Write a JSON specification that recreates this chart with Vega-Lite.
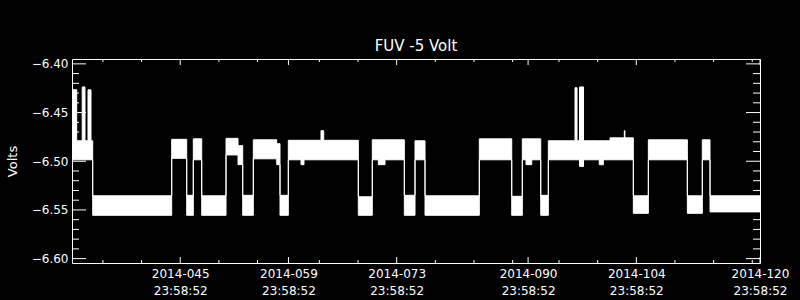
{
  "$schema": "https://vega.github.io/schema/vega-lite/v6.json",
  "width": 688,
  "height": 204,
  "autosize": {"type": "none"},
  "padding": {"left": 72, "top": 59, "right": 40, "bottom": 37},
  "background": "black",
  "view": {"stroke": null},
  "title": {"text": "FUV -5 Volt", "color": "white", "font": "DejaVu Sans", "fontSize": 15, "fontWeight": "normal", "anchor": "middle", "offset": -8, "baseline": "alphabetic"},
  "datasets": {
    "volts": [
      {"t": "2014-01-31T23:58:52Z", "hi": -6.4265, "lo": -6.4985},
      {"t": "2014-02-01T14:35:00Z", "hi": -6.479, "lo": -6.4985},
      {"t": "2014-02-02T07:40:00Z", "hi": -6.4237, "lo": -6.4985},
      {"t": "2014-02-02T16:20:00Z", "hi": -6.479, "lo": -6.4985},
      {"t": "2014-02-03T01:40:00Z", "hi": -6.4267, "lo": -6.4985},
      {"t": "2014-02-03T11:00:00Z", "hi": -6.479, "lo": -6.4985},
      {"t": "2014-02-03T16:15:00Z", "hi": -6.5355, "lo": -6.5555},
      {"t": "2014-02-13T21:30:00Z", "hi": -6.4775, "lo": -6.497},
      {"t": "2014-02-15T20:05:00Z", "hi": -6.535, "lo": -6.5555},
      {"t": "2014-02-16T16:35:00Z", "hi": -6.477, "lo": -6.4985},
      {"t": "2014-02-17T18:40:00Z", "hi": -6.5355, "lo": -6.5555},
      {"t": "2014-02-20T22:10:00Z", "hi": -6.4765, "lo": -6.4935},
      {"t": "2014-02-22T11:25:00Z", "hi": -6.484, "lo": -6.5035},
      {"t": "2014-02-23T02:00:00Z", "hi": -6.535, "lo": -6.5555},
      {"t": "2014-02-24T10:55:00Z", "hi": -6.478, "lo": -6.4975},
      {"t": "2014-02-27T11:30:00Z", "hi": -6.482, "lo": -6.5035},
      {"t": "2014-02-27T21:45:00Z", "hi": -6.535, "lo": -6.5555},
      {"t": "2014-02-28T23:35:00Z", "hi": -6.4785, "lo": -6.4985},
      {"t": "2014-03-02T15:00:00Z", "hi": -6.4785, "lo": -6.5035},
      {"t": "2014-03-03T00:15:00Z", "hi": -6.4785, "lo": -6.4985},
      {"t": "2014-03-05T05:05:00Z", "hi": -6.4686, "lo": -6.4985},
      {"t": "2014-03-05T13:25:00Z", "hi": -6.4785, "lo": -6.4985},
      {"t": "2014-03-10T00:55:00Z", "hi": -6.5365, "lo": -6.5555},
      {"t": "2014-03-11T20:20:00Z", "hi": -6.478, "lo": -6.4985},
      {"t": "2014-03-12T15:00:00Z", "hi": -6.478, "lo": -6.5035},
      {"t": "2014-03-13T11:45:00Z", "hi": -6.478, "lo": -6.4985},
      {"t": "2014-03-15T23:45:00Z", "hi": -6.535, "lo": -6.5555},
      {"t": "2014-03-17T08:55:00Z", "hi": -6.479, "lo": -6.4985},
      {"t": "2014-03-18T16:00:00Z", "hi": -6.5355, "lo": -6.5555},
      {"t": "2014-03-25T16:35:00Z", "hi": -6.477, "lo": -6.4985},
      {"t": "2014-03-29T21:10:00Z", "hi": -6.536, "lo": -6.5555},
      {"t": "2014-03-31T06:05:00Z", "hi": -6.477, "lo": -6.4985},
      {"t": "2014-03-31T17:30:00Z", "hi": -6.477, "lo": -6.5035},
      {"t": "2014-04-01T11:20:00Z", "hi": -6.477, "lo": -6.4985},
      {"t": "2014-04-02T15:15:00Z", "hi": -6.535, "lo": -6.5555},
      {"t": "2014-04-03T14:50:00Z", "hi": -6.479, "lo": -6.4985},
      {"t": "2014-04-07T01:40:00Z", "hi": -6.4245, "lo": -6.4985},
      {"t": "2014-04-07T07:55:00Z", "hi": -6.479, "lo": -6.4985},
      {"t": "2014-04-07T15:40:00Z", "hi": -6.4237, "lo": -6.5053},
      {"t": "2014-04-08T04:05:00Z", "hi": -6.479, "lo": -6.4985},
      {"t": "2014-04-10T05:00:00Z", "hi": -6.479, "lo": -6.5036},
      {"t": "2014-04-10T17:30:00Z", "hi": -6.479, "lo": -6.4985},
      {"t": "2014-04-11T14:25:00Z", "hi": -6.476, "lo": -6.4985},
      {"t": "2014-04-13T10:45:00Z", "hi": -6.4686, "lo": -6.4985},
      {"t": "2014-04-13T12:30:00Z", "hi": -6.476, "lo": -6.4985},
      {"t": "2014-04-14T14:45:00Z", "hi": -6.5355, "lo": -6.5535},
      {"t": "2014-04-16T13:20:00Z", "hi": -6.478, "lo": -6.4985},
      {"t": "2014-04-21T14:25:00Z", "hi": -6.5355, "lo": -6.5535},
      {"t": "2014-04-23T12:55:00Z", "hi": -6.478, "lo": -6.4985},
      {"t": "2014-04-24T12:50:00Z", "hi": -6.5355, "lo": -6.552},
      {"t": "2014-04-30T23:58:52Z", "hi": -6.5355, "lo": -6.552}
    ],
    "xmajor": [
      {"t": "2014-02-14T23:58:52Z"}, {"t": "2014-02-28T23:58:52Z"}, {"t": "2014-03-14T23:58:52Z"},
      {"t": "2014-03-31T23:58:52Z"}, {"t": "2014-04-14T23:58:52Z"}, {"t": "2014-04-30T23:58:52Z"}
    ],
    "xminor": [
      {"t": "2014-02-04T23:58:52Z"}, {"t": "2014-02-09T23:58:52Z"}, {"t": "2014-02-19T23:58:52Z"}, {"t": "2014-02-24T23:58:52Z"},
      {"t": "2014-03-04T23:58:52Z"}, {"t": "2014-03-09T23:58:52Z"}, {"t": "2014-03-19T23:58:52Z"}, {"t": "2014-03-24T23:58:52Z"},
      {"t": "2014-03-29T23:58:52Z"}, {"t": "2014-04-04T23:58:52Z"}, {"t": "2014-04-09T23:58:52Z"}, {"t": "2014-04-19T23:58:52Z"},
      {"t": "2014-04-24T23:58:52Z"}, {"t": "2014-04-29T23:58:52Z"}
    ],
    "ymajor": [{"v": -6.6}, {"v": -6.55}, {"v": -6.5}, {"v": -6.45}, {"v": -6.4}],
    "yminor": [
      {"v": -6.59}, {"v": -6.58}, {"v": -6.57}, {"v": -6.56}, {"v": -6.54}, {"v": -6.53}, {"v": -6.52}, {"v": -6.51},
      {"v": -6.49}, {"v": -6.48}, {"v": -6.47}, {"v": -6.46}, {"v": -6.44}, {"v": -6.43}, {"v": -6.42}, {"v": -6.41}
    ]
  },
  "layer": [
    {
      "data": {"name": "volts"},
      "mark": {"type": "area", "interpolate": "step-after", "color": "white", "stroke": "white", "strokeWidth": 1, "clip": true},
      "encoding": {
        "x": {"field": "t", "type": "temporal", "scale": {"type": "utc", "domain": [{"year": 2014, "month": 1, "date": 31, "hours": 23, "minutes": 58, "seconds": 52, "utc": true}, {"year": 2014, "month": 4, "date": 30, "hours": 23, "minutes": 58, "seconds": 52, "utc": true}]},
          "axis": {"orient": "bottom", "values": [
            {"year": 2014, "month": 2, "date": 14, "hours": 23, "minutes": 58, "seconds": 52, "utc": true},
            {"year": 2014, "month": 2, "date": 28, "hours": 23, "minutes": 58, "seconds": 52, "utc": true},
            {"year": 2014, "month": 3, "date": 14, "hours": 23, "minutes": 58, "seconds": 52, "utc": true},
            {"year": 2014, "month": 3, "date": 31, "hours": 23, "minutes": 58, "seconds": 52, "utc": true},
            {"year": 2014, "month": 4, "date": 14, "hours": 23, "minutes": 58, "seconds": 52, "utc": true},
            {"year": 2014, "month": 4, "date": 30, "hours": 23, "minutes": 58, "seconds": 52, "utc": true}],
            "ticks": false, "domain": true, "domainColor": "white", "domainWidth": 1, "labelColor": "white", "labelFont": "DejaVu Sans", "labelFontSize": 12, "labelPadding": 5, "labelLineHeight": 17,
            "labelExpr": "[utcFormat(datum.value, '%Y-%j'), utcFormat(datum.value, '%H:%M:%S')]",
            "labelFlush": false, "labelOverlap": false, "labelBound": false, "grid": false, "title": null}},
        "y": {"field": "hi", "type": "quantitative", "scale": {"domain": [-6.6045, -6.395], "nice": false, "zero": false},
          "axis": {"orient": "left", "values": [-6.6, -6.55, -6.5, -6.45, -6.4], "format": ".2f", "ticks": false, "domain": true, "domainColor": "white", "domainWidth": 1,
            "labelColor": "white", "labelFont": "DejaVu Sans", "labelFontSize": 12, "labelPadding": 4, "labelFlush": false, "labelOverlap": false, "grid": false,
            "title": "Volts", "titleColor": "white", "titleFont": "DejaVu Sans", "titleFontSize": 13, "titleFontWeight": "normal", "titleX": -60, "titleY": 102, "titleAngle": -90, "titleAlign": "center", "titleBaseline": "middle"}},
        "y2": {"field": "lo"}
      }
    },
    {
      "data": {"name": "xmajor"},
      "mark": {"type": "rule", "color": "white", "strokeWidth": 1},
      "encoding": {
        "x": {"field": "t", "type": "temporal", "axis": {"orient": "top", "ticks": false, "labels": false, "domain": true, "domainColor": "white", "domainWidth": 1, "grid": false, "title": null}},
        "y": {"datum": -6.6045, "type": "quantitative", "axis": null},
        "y2": {"datum": -6.59834}
      }
    },
    {
      "data": {"name": "xmajor"},
      "mark": {"type": "rule", "color": "white", "strokeWidth": 1},
      "encoding": {
        "x": {"field": "t", "type": "temporal", "axis": null},
        "y": {"datum": -6.395, "type": "quantitative", "axis": null},
        "y2": {"datum": -6.40116}
      }
    },
    {
      "data": {"name": "xminor"},
      "mark": {"type": "rule", "color": "white", "strokeWidth": 1},
      "encoding": {
        "x": {"field": "t", "type": "temporal", "axis": null},
        "y": {"datum": -6.6045, "type": "quantitative", "axis": null},
        "y2": {"datum": -6.60142}
      }
    },
    {
      "data": {"name": "xminor"},
      "mark": {"type": "rule", "color": "white", "strokeWidth": 1},
      "encoding": {
        "x": {"field": "t", "type": "temporal", "axis": null},
        "y": {"datum": -6.395, "type": "quantitative", "axis": null},
        "y2": {"datum": -6.39808}
      }
    },
    {
      "data": {"name": "ymajor"},
      "mark": {"type": "rule", "color": "white", "strokeWidth": 1},
      "encoding": {
        "y": {"field": "v", "type": "quantitative", "axis": {"orient": "right", "ticks": false, "labels": false, "domain": true, "domainColor": "white", "domainWidth": 1, "grid": false, "title": null}},
        "x": {"datum": {"year": 2014, "month": 1, "date": 31, "hours": 23, "minutes": 58, "seconds": 52, "utc": true}, "type": "temporal", "axis": null},
        "x2": {"datum": {"year": 2014, "month": 2, "date": 2, "hours": 19, "minutes": 26, "seconds": 52, "utc": true}}
      }
    },
    {
      "data": {"name": "ymajor"},
      "mark": {"type": "rule", "color": "white", "strokeWidth": 1},
      "encoding": {
        "y": {"field": "v", "type": "quantitative", "axis": null},
        "x": {"datum": {"year": 2014, "month": 4, "date": 30, "hours": 23, "minutes": 58, "seconds": 52, "utc": true}, "type": "temporal", "axis": null},
        "x2": {"datum": {"year": 2014, "month": 4, "date": 29, "hours": 4, "minutes": 30, "seconds": 52, "utc": true}}
      }
    },
    {
      "data": {"name": "yminor"},
      "mark": {"type": "rule", "color": "white", "strokeWidth": 1},
      "encoding": {
        "y": {"field": "v", "type": "quantitative", "axis": null},
        "x": {"datum": {"year": 2014, "month": 1, "date": 31, "hours": 23, "minutes": 58, "seconds": 52, "utc": true}, "type": "temporal", "axis": null},
        "x2": {"datum": {"year": 2014, "month": 2, "date": 1, "hours": 21, "minutes": 42, "seconds": 52, "utc": true}}
      }
    },
    {
      "data": {"name": "yminor"},
      "mark": {"type": "rule", "color": "white", "strokeWidth": 1},
      "encoding": {
        "y": {"field": "v", "type": "quantitative", "axis": null},
        "x": {"datum": {"year": 2014, "month": 4, "date": 30, "hours": 23, "minutes": 58, "seconds": 52, "utc": true}, "type": "temporal", "axis": null},
        "x2": {"datum": {"year": 2014, "month": 4, "date": 30, "hours": 2, "minutes": 14, "seconds": 52, "utc": true}}
      }
    }
  ],
  "resolve": {"axis": {"x": "independent", "y": "independent"}}
}
